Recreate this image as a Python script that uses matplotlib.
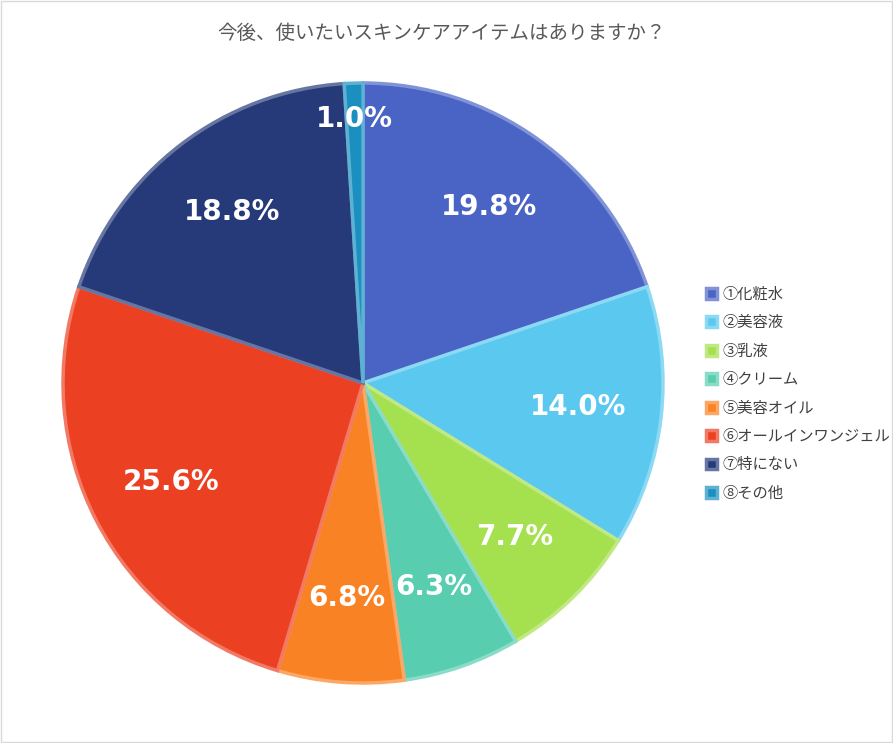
import matplotlib.pyplot as plt
import matplotlib.colors as mc
import numpy as np

plt.rcParams['font.family'] = ['Noto Sans CJK JP', 'DejaVu Sans']

title = "今後、使いたいスキンケアアイテムはありますか？"
labels = ["①化粧水", "②美容液", "③乳液", "④クリーム", "⑤美容オイル", "⑥オールインワンジェル", "⑦特にない", "⑧その他"]
values = [19.8, 14.0, 7.7, 6.3, 6.8, 25.6, 18.8, 1.0]
colors = ["#4a64c6", "#5bc9ef", "#a5e04e", "#58cdb0", "#f98224", "#ec4022", "#263a7a", "#1a8fc0"]

fig = plt.figure(figsize=(8.93, 7.43), dpi=100)
ax = fig.add_axes([0.0672, 0.0767, 0.6786, 0.8156])
wedges, _ = ax.pie(values, colors=colors, startangle=90, counterclock=False, radius=1.0)
for w, c in zip(wedges, colors):
    rgb = np.array(mc.to_rgb(c))
    w.set_edgecolor(tuple(rgb + (1 - rgb) * 0.3))
    w.set_linewidth(2.5)
ax.set_xlim(-1.01, 1.01)
ax.set_ylim(-1.01, 1.01)
ax.set_aspect('auto')

total = sum(values)
ang = 90.0
for v, w in zip(values, wedges):
    mid = np.deg2rad(ang - v / total * 360 / 2)
    ang -= v / total * 360
    r = 0.72 if v > 3 else 0.88
    ax.text(r * np.cos(mid), r * np.sin(mid), f"{v:.1f}%", ha='center', va='center',
            color='white', fontsize=20, fontweight='bold', family='DejaVu Sans')

fig.text(0.495, 0.955, title, ha='center', va='center', fontsize=14, color='#595959')
fig.legend(wedges, labels, loc='center left', bbox_to_anchor=(0.775, 0.47), frameon=False,
           fontsize=11, handlelength=0.7, handleheight=0.7, labelspacing=0.75, handletextpad=0.4,
           labelcolor='#404040')
fig.patches.append(plt.Rectangle((0.001, 0.001), 0.998, 0.998, transform=fig.transFigure,
                                 fill=False, edgecolor='#d9d9d9', linewidth=1))
fig.savefig("out.png", dpi=100)
